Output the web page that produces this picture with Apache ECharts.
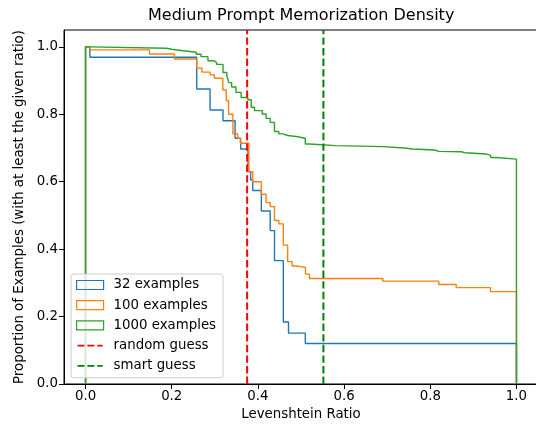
<!DOCTYPE html>
<html>
<head>
<meta charset="utf-8">
<script src="https://cdn.jsdelivr.net/npm/echarts@6/dist/echarts.min.js"></script>
<style>
html,body{margin:0;padding:0;background:#fff;}
#chart{width:536px;height:432px;}
</style>
</head>
<body>
<div id="chart"></div>
<script>
// ---- data ----
const seriesNames = ['32 examples', '100 examples', '1000 examples'];
const seriesColors = ['#1f77b4', '#ff7f0e', '#2ca02c'];

const blueX = [0, 0, 0.01, 0.258, 0.289, 0.319, 0.347, 0.36, 0.377, 0.383, 0.388, 0.408, 0.4285, 0.4385, 0.459, 0.471, 0.51, 1.0];
const blueY = [0, 1.0, 0.969, 0.875, 0.8125, 0.781, 0.729, 0.697, 0.63, 0.605, 0.574, 0.513, 0.455, 0.366, 0.184, 0.151, 0.12, 0];

const orangeX = [0, 0, 0.01, 0.1485, 0.2065, 0.258, 0.27, 0.289, 0.299, 0.3186, 0.3265, 0.332, 0.342, 0.353, 0.359, 0.379, 0.388, 0.408, 0.419, 0.4285, 0.4385, 0.4485, 0.459, 0.469, 0.4796, 0.4896, 0.5104, 0.5197, 0.6898, 0.8197, 0.8601, 0.9397, 1.0];
const orangeY = [0, 1.0, 0.991, 0.979, 0.964, 0.937, 0.925, 0.917, 0.907, 0.872, 0.841, 0.80, 0.742, 0.729, 0.714, 0.63, 0.60, 0.563, 0.538, 0.526, 0.485, 0.475, 0.412, 0.363, 0.35, 0.346, 0.326, 0.313, 0.305, 0.295, 0.286, 0.274, 0];

const greenX = [0, 0, 0.01, 0.188, 0.2, 0.222, 0.257, 0.268, 0.284, 0.297, 0.304, 0.319, 0.328, 0.3325, 0.339, 0.349, 0.361, 0.3766, 0.3845, 0.392, 0.41, 0.419, 0.4285, 0.4385, 0.4485, 0.458, 0.469, 0.489, 0.51, 0.52, 0.58, 0.69, 0.74, 0.759, 0.81, 0.82, 0.872, 0.881, 0.93, 0.94, 0.953, 1.0];
const greenY = [0, 1.0, 0.996, 0.993, 0.989, 0.984, 0.978, 0.971, 0.959, 0.954, 0.948, 0.924, 0.914, 0.894, 0.881, 0.865, 0.85, 0.843, 0.821, 0.811, 0.801, 0.788, 0.776, 0.749, 0.742, 0.737, 0.734, 0.729, 0.712, 0.707, 0.704, 0.700, 0.697, 0.694, 0.69, 0.689, 0.686, 0.682, 0.678, 0.672, 0.667, 0];

const guessNames = ['random guess', 'smart guess'];
const guessX = [0.375, 0.552];
const guessColors = ['#ff0000', '#008000'];

const xTicks = [0, 0.2, 0.4, 0.6, 0.8, 1.0];
const yTicks = [0, 0.2, 0.4, 0.6, 0.8, 1.0];

const titleText = 'Medium Prompt Memorization Density';
const xName = 'Levenshtein Ratio';
const yName = 'Proportion of Examples (with at least the given ratio)';

// ---- build ----
const FONT = 'DejaVu Sans';
const FS = 13.33;
const histXs = [blueX, orangeX, greenX];
const histYs = [blueY, orangeY, greenY];

const series = [];
histXs.forEach((xs, k) => {
  series.push({
    name: seriesNames[k],
    type: 'line',
    step: 'end',
    showSymbol: false,
    symbol: 'none',
    animation: false,
    lineStyle: { color: seriesColors[k], width: 1.4 },
    itemStyle: { color: seriesColors[k] },
    data: xs.map((x, i) => [x, histYs[k][i]])
  });
});
guessX.forEach((gx, k) => {
  series.push({
    name: guessNames[k],
    type: 'line',
    showSymbol: false,
    symbol: 'none',
    animation: false,
    lineStyle: { color: guessColors[k], width: 2, type: [7.4, 3.2] },
    itemStyle: { color: guessColors[k] },
    data: [[gx, 0], [gx, 1.05]]
  });
});

const dashIcon = 'path://M0,0M28,10M0,4h7.7v2h-7.7zM11,4h7.7v2h-7.7zM22,4h6v2h-6z';
const legendData = seriesNames.map((n, k) => ({
  name: n,
  icon: 'rect',
  itemStyle: { color: 'rgba(0,0,0,0)', borderColor: seriesColors[k], borderWidth: 1.2 }
})).concat(guessNames.map((n, k) => ({
  name: n,
  icon: dashIcon,
  itemStyle: { color: guessColors[k], borderWidth: 0 }
})));

const chart = echarts.init(document.getElementById('chart'), null, { renderer: 'canvas' });
chart.setOption({
  animation: false,
  backgroundColor: '#fff',
  title: {
    text: titleText,
    left: 148, top: 8, padding: 0,
    textStyle: { fontFamily: FONT, fontSize: 16, fontWeight: 'normal', color: '#000' }
  },
  grid: {
    left: 64, top: 30, width: 474, height: 354,
    outerBoundsMode: 'none', containLabel: false,
    show: true, borderColor: '#000', borderWidth: 1, backgroundColor: '#fff'
  },
  legend: {
    orient: 'vertical',
    left: 71, top: 274,
    padding: [4, 7, 5, 5],
    itemWidth: 27, itemHeight: 9,
    itemGap: 6.2,
    backgroundColor: 'rgba(255,255,255,0.8)',
    borderColor: '#cccccc', borderWidth: 1, borderRadius: 3,
    textStyle: { fontFamily: FONT, fontSize: FS, color: '#000', lineHeight: 14, padding: [0, 0, 0, 5] },
    data: legendData
  },
  xAxis: {
    type: 'value', min: -0.05, max: 1.05,
    name: xName, nameLocation: 'middle', nameGap: 22,
    nameTextStyle: { fontFamily: FONT, fontSize: FS, color: '#000', verticalAlign: 'top' },
    splitLine: { show: false },
    axisLine: { show: true, onZero: false, lineStyle: { color: '#000', width: 1 } },
    axisTick: { show: true, length: 5, lineStyle: { color: '#000', width: 1 }, customValues: xTicks },
    axisLabel: { fontFamily: FONT, fontSize: FS, color: '#000', margin: 6, customValues: xTicks,
      formatter: v => v.toFixed(1) }
  },
  yAxis: {
    type: 'value', min: 0, max: 1.05,
    name: yName, nameLocation: 'middle', nameGap: 36,
    nameTextStyle: { fontFamily: FONT, fontSize: FS, color: '#000' },
    splitLine: { show: false },
    axisLine: { show: true, onZero: false, lineStyle: { color: '#000', width: 1 } },
    axisTick: { show: true, length: 5, lineStyle: { color: '#000', width: 1 }, customValues: yTicks },
    axisLabel: { fontFamily: FONT, fontSize: FS, color: '#000', margin: 6, customValues: yTicks,
      formatter: v => v.toFixed(1) }
  },
  series: series
});
</script>
</body>
</html>
